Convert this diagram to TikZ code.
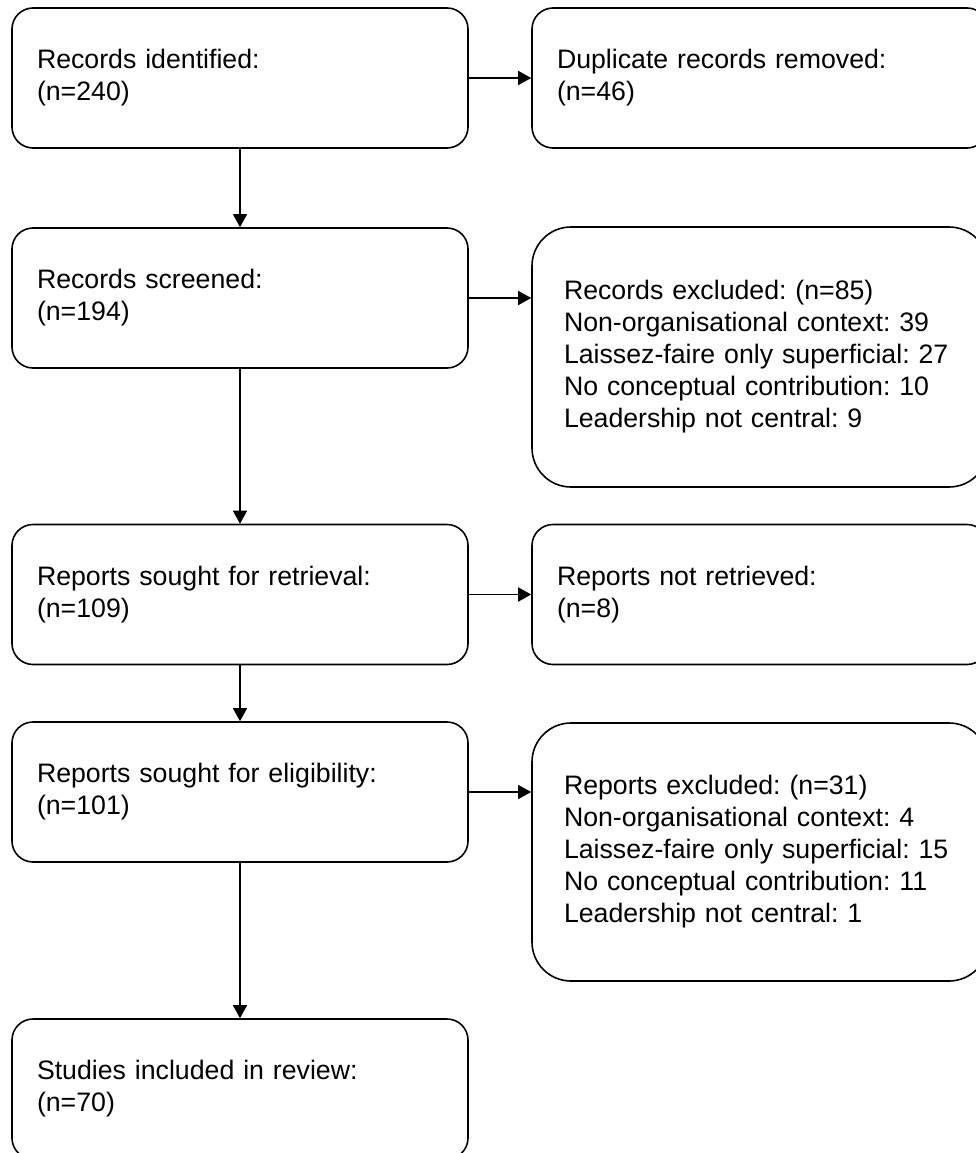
\documentclass[tikz,border=0pt]{standalone}
\usepackage{fontspec}
\setmainfont{Liberation Sans}
\usetikzlibrary{arrows.meta}
\frenchspacing
\begin{document}
\begin{tikzpicture}[x=1pt,y=-1pt,
  box/.style={draw=black, line width=1.6pt, rounded corners=21pt, fill=white,
    minimum width=456pt, minimum height=140pt, inner xsep=25pt, inner ysep=0pt,
    text width=406pt, align=left,
    font=\fontsize{26.7}{32}\selectfont\frenchspacing},
  bigbox/.style={box, rounded corners=39pt, inner xsep=32pt, text width=392pt},
  arr/.style={line width=1.5pt, -{Triangle[length=13pt,width=14pt]}}]
\clip (0,0) rectangle (976,1153);
\fill[white] (0,0) rectangle (976,1153);
\node[box] (l1) at (240,78) {Records identified:\\(n=240)};
\node[box] (l2) at (240,298) {Records screened:\\(n=194)};
\node[box] (l3) at (240,594.5) {Reports sought for retrieval:\\(n=109)};
\node[box] (l4) at (240,792) {Reports sought for eligibility:\\(n=101)};
\node[box] (l5) at (240,1089) {Studies included in review:\\(n=70)};
\node[box] (r1) at (760,78) {Duplicate records removed:\\(n=46)};
\node[bigbox, minimum height=260pt] (r2) at (760,357) {Records excluded: (n=85)\\Non-organisational context: 39\\Laissez-faire only superficial: 27\\No conceptual contribution: 10\\Leadership not central: 9};
\node[box] (r3) at (760,594.5) {Reports not retrieved:\\(n=8)};
\node[bigbox, minimum height=258pt] (r4) at (760,852) {Reports excluded: (n=31)\\Non-organisational context: 4\\Laissez-faire only superficial: 15\\No conceptual contribution: 11\\Leadership not central: 1};
\draw[arr] (l1) -- (l2);
\draw[arr] (l2) -- (l3);
\draw[arr] (l3) -- (l4);
\draw[arr] (l4) -- (l5);
\draw[arr] (l1.east) -- (l1.east -| r1.west);
\draw[arr] (l2.east) -- (l2.east -| r2.west);
\draw[arr] (l3.east) -- (l3.east -| r3.west);
\draw[arr] (l4.east) -- (l4.east -| r4.west);
\end{tikzpicture}
\end{document}
